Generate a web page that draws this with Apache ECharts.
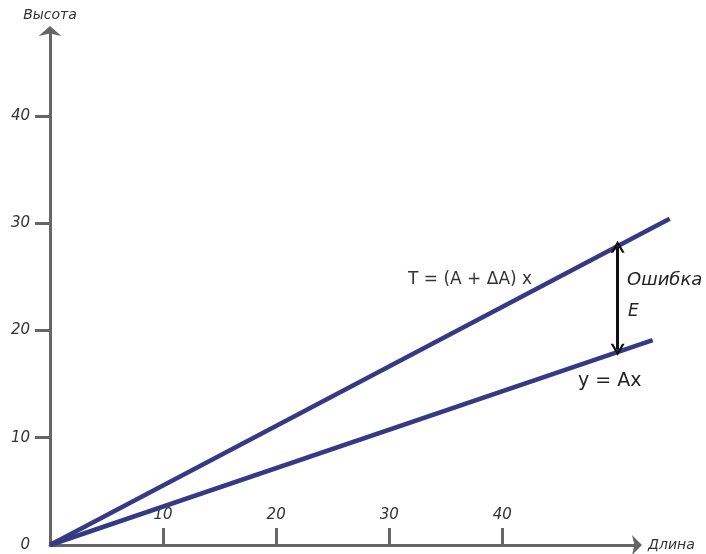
<!DOCTYPE html>
<html>
<head>
<meta charset="utf-8">
<script src="https://cdn.jsdelivr.net/npm/echarts@6/dist/echarts.min.js"></script>
<style>
  html, body { margin: 0; padding: 0; background: #fff; }
  #chart { width: 706px; height: 554px; }
</style>
</head>
<body>
<div id="chart"></div>
<script>
// данные графика
var xTicks = [10, 20, 30, 40];
var yTicks = [0, 10, 20, 30, 40];
var yTickMarks = [10, 20, 30, 40];
var upperLine = [[0, 0], [54.8, 30.4]];   // T = (A + dA) x
var lowerLine = [[0, 0], [53.3, 19.1]];   // y = Ax
var errX = 50.2;
var errLow = 18.2;
var errHigh = 27.8;

var axisColor = '#666666';
var lineColor = '#363a82';
var textColor = '#333333';
var font = 'DejaVu Sans';

// галочка-стрелка для отрезка ошибки
var chevron = 'path://M0,10 L5,0 L10,10 L8.2,10 L5,3.6 L1.8,10 Z';

// видимая ось X кончается стрелкой на 52, а линии идут чуть дальше,
// поэтому линии рисуются во второй (невидимой) сетке с тем же масштабом
var xMax = 52;
var plotW = 706 - 50 - 68;
var xMaxWide = xMax * (plotW + 42) / plotW;

var chart = echarts.init(document.getElementById('chart'));

chart.setOption({
  animation: false,
  backgroundColor: '#ffffff',
  grid: [
    { left: 50, right: 68, top: 30, bottom: 9 },
    { left: 50, right: 26, top: 30, bottom: 9 }
  ],
  xAxis: [{
    type: 'value',
    gridIndex: 0,
    min: 0,
    max: xMax,
    name: 'Длина',
    nameLocation: 'end',
    nameGap: 10,
    nameTextStyle: { color: textColor, fontSize: 14, fontFamily: font, fontStyle: 'italic', verticalAlign: 'middle' },
    axisLine: { symbol: ['none', 'arrow'], symbolSize: [15, 10], symbolOffset: [0, 4],
      lineStyle: { color: axisColor, width: 3 } },
    axisTick: { inside: true, length: 17, customValues: xTicks, lineStyle: { color: axisColor, width: 3 } },
    axisLabel: { inside: true, margin: 22, customValues: xTicks, color: textColor, fontSize: 15,
      fontFamily: font, fontStyle: 'italic' },
    splitLine: { show: false }
  }, {
    type: 'value',
    gridIndex: 1,
    min: 0,
    max: xMaxWide,
    show: false
  }],
  yAxis: [{
    type: 'value',
    gridIndex: 0,
    min: 0,
    max: 48,
    name: 'Высота',
    nameLocation: 'end',
    nameGap: 8,
    nameTextStyle: { color: textColor, fontSize: 14, fontFamily: font, fontStyle: 'italic', align: 'center' },
    axisLine: { symbol: ['none', 'arrow'], symbolSize: [17, 10], symbolOffset: [0, 4],
      lineStyle: { color: axisColor, width: 3 } },
    axisTick: { length: 15, customValues: yTickMarks, lineStyle: { color: axisColor, width: 3 } },
    axisLabel: { margin: 20, customValues: yTicks, color: textColor, fontSize: 15,
      fontFamily: font, fontStyle: 'italic' },
    splitLine: { show: false }
  }, {
    type: 'value',
    gridIndex: 1,
    min: 0,
    max: 48,
    show: false
  }],
  series: [
    {
      type: 'line',
      xAxisIndex: 1,
      yAxisIndex: 1,
      data: upperLine,
      showSymbol: false,
      lineStyle: { color: lineColor, width: 4.5 }
    },
    {
      type: 'line',
      xAxisIndex: 1,
      yAxisIndex: 1,
      data: lowerLine,
      showSymbol: false,
      lineStyle: { color: lineColor, width: 4.5 }
    },
    {
      type: 'line',
      xAxisIndex: 1,
      yAxisIndex: 1,
      data: [],
      markLine: {
        silent: true,
        symbol: [chevron, chevron],
        symbolSize: [14, 12],
        label: { show: false },
        lineStyle: { color: '#111111', width: 3, type: 'solid' },
        data: [[{ coord: [errX, errLow] }, { coord: [errX, errHigh] }]]
      }
    }
  ],
  graphic: [
    { type: 'text', left: 408, top: 271,
      style: { text: 'T = (A + ΔA) x', fill: textColor, fontSize: 17, fontFamily: font } },
    { type: 'text', left: 627, top: 271,
      style: { text: 'Ошибка', fill: '#222', fontSize: 18, fontFamily: font, fontStyle: 'italic' } },
    { type: 'text', left: 628, top: 303,
      style: { text: 'E', fill: '#222', fontSize: 17, fontFamily: font, fontStyle: 'italic' } },
    { type: 'text', left: 578, top: 372,
      style: { text: 'y = Ax', fill: '#222', fontSize: 19, fontFamily: font } }
  ]
});
</script>
</body>
</html>
